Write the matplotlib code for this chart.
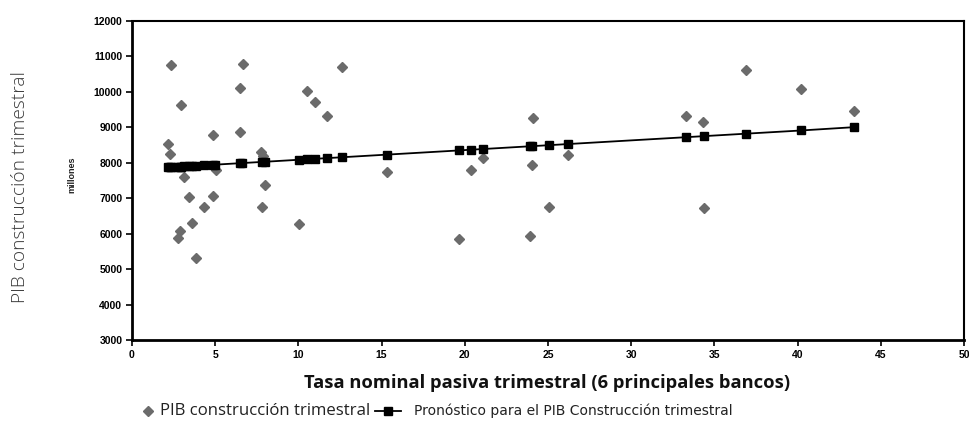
import matplotlib
matplotlib.use("Agg")
import matplotlib.pyplot as plt
from matplotlib.lines import Line2D

# Observed data (diamonds)
tasa = [2.18, 2.28, 2.34, 2.74, 2.90, 2.95, 3.10, 3.40, 3.60, 3.86, 4.32, 4.88, 4.85,
        4.95, 5.05, 6.48, 6.50, 6.70, 7.75, 7.85, 8.02, 7.82, 10.02, 10.50, 10.98,
        11.70, 12.62, 15.35, 19.64, 20.35, 21.10, 23.90, 24.03, 24.10, 25.05, 26.19,
        33.30, 34.30, 34.40, 36.90, 40.20, 43.40]
pib = [8521, 8239, 10750, 5886, 6074, 9621, 7598, 7034, 6309, 5313, 6760, 8783, 7062,
       7880, 7790, 8868, 10109, 10795, 8300, 8200, 7372, 6760, 6280, 10014, 9723,
       9315, 10711, 7731, 5840, 7796, 8126, 5934, 7928, 9255, 6760, 8228,
       9319, 9159, 6732, 10617, 10090, 9452]

# Forecast series (squares + line)
tasa_pron = [2.18, 2.28, 2.34, 2.74, 2.90, 2.95, 3.10, 3.40, 3.60, 3.86, 4.32, 4.88,
             5.00, 6.48, 6.60, 7.80, 8.00, 10.02, 10.50, 10.98, 11.70, 12.62, 15.35,
             19.64, 20.35, 21.10, 23.90, 24.05, 25.05, 26.19, 33.30, 34.35, 36.90,
             40.20, 43.40]
pib_pron = [7870, 7872, 7874, 7885, 7889, 7891, 7895, 7903, 7909, 7916, 7928, 7944,
            7947, 7988, 7991, 8024, 8029, 8085, 8098, 8111, 8131, 8156, 8231,
            8348, 8368, 8388, 8465, 8469, 8496, 8528, 8722, 8751, 8821,
            8911, 9005]

xticks = [0, 5, 10, 15, 20, 25, 30, 35, 40, 45, 50]
yticks = [3000, 4000, 5000, 6000, 7000, 8000, 9000, 10000, 11000, 12000]

W, H = 970, 434
fig = plt.figure(figsize=(W / 100, H / 100), dpi=100)
ax = fig.add_axes([132 / W, 1 - 340 / H, (964 - 132) / W, (340 - 21) / H])

diam_color = "#6b6b6b"
ax.plot(tasa, pib, linestyle="none", marker="D", markersize=5.5,
        color=diam_color, markeredgecolor=diam_color, zorder=2)
ax.plot(tasa_pron, pib_pron, color="black", linewidth=1.3, marker="s",
        markersize=6, markerfacecolor="black", markeredgecolor="black", zorder=3)

ax.set_xlim(0, 50)
ax.set_ylim(3000, 12000)
ax.set_xticks(xticks)
ax.set_yticks(yticks)
ax.set_xticklabels([str(v) for v in xticks])
ax.set_yticklabels([str(v) for v in yticks])
for lab in ax.get_xticklabels() + ax.get_yticklabels():
    lab.set_fontfamily("Liberation Sans")
    lab.set_fontweight("bold")
    lab.set_fontsize(7.5)
ax.tick_params(axis="both", direction="out", length=4, width=1.2, color="black", pad=3)

ax.spines["left"].set_linewidth(2.0)
ax.spines["bottom"].set_linewidth(2.0)
ax.spines["top"].set_linewidth(1.5)
ax.spines["right"].set_linewidth(1.5)
for s in ax.spines.values():
    s.set_color("black")

renderer = fig.canvas.get_renderer()


def fit(t, target_px, horizontal=True):
    bb = t.get_window_extent(renderer=renderer)
    cur = bb.width if horizontal else bb.height
    t.set_fontsize(t.get_fontsize() * target_px / cur)


xl = fig.text(547 / W, 1 - 383 / H, "Tasa nominal pasiva trimestral (6 principales bancos)",
              ha="center", va="center", fontsize=12, fontweight="bold",
              family="Open Sans", color="#111111")
fit(xl, 485)

yl = fig.text(20 / W, 1 - 187 / H, "PIB construcción trimestral", rotation=90,
              ha="center", va="center", fontsize=12.5, fontweight="light",
              family="Open Sans", color="#3a3a3a")
fit(yl, 232, horizontal=False)

fig.text(72 / W, 1 - 175 / H, "millones", rotation=90, ha="center", va="center",
         fontsize=6.5, fontweight="bold", family="Liberation Sans", color="#222222")

# Legend (manual)
ly = 1 - 411 / H
fig.add_artist(Line2D([148 / W], [ly], transform=fig.transFigure, marker="D",
                      markersize=5.5, color=diam_color, linestyle="none"))
t1 = fig.text(160 / W, ly, "PIB construcción trimestral", ha="left", va="center",
              fontsize=12, family="Open Sans", color="#222222")
fit(t1, 210)
fig.add_artist(Line2D([375 / W, 401 / W], [ly, ly], transform=fig.transFigure,
                      color="black", linewidth=1.3))
fig.add_artist(Line2D([388 / W], [ly], transform=fig.transFigure, marker="s",
                      markersize=6, color="black", linestyle="none"))
fig.text(414 / W, ly, "Pronóstico para el PIB Construcción trimestral", ha="left",
         va="center", fontsize=10, family="DejaVu Sans", color="#222222")

fig.savefig("out.png", dpi=100)
